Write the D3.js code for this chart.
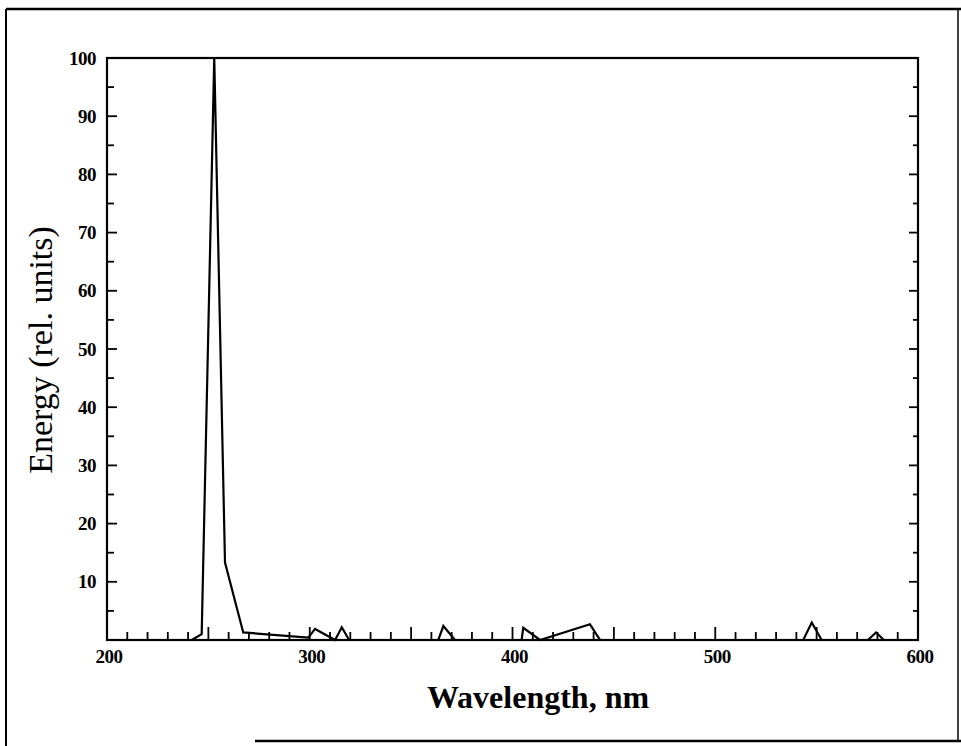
<!DOCTYPE html>
<html>
<head>
<meta charset="utf-8">
<script src="https://cdn.jsdelivr.net/npm/d3@7"></script>
<style>
  html, body { margin: 0; padding: 0; background: #fff; }
  svg { display: block; }
</style>
</head>
<body>
<svg id="chart" width="961" height="746"></svg>
<script>
// Emission spectrum: wavelength (nm) and relative energy
const wavelengths = [241.8, 246.7, 252.9, 258.2, 267.2, 299.3, 302.6, 312.5, 315.8, 319.4,
                     363.4, 365.9, 371.6, 404.5, 405.3, 413.6, 438.2, 443.2,
                     543.4, 547.6, 552.5, 575.3, 579.3, 583.2, 600];
const energies    = [0, 1.0, 100, 13.3, 1.3, 0.4, 1.9, 0, 2.2, 0,
                     0, 2.4, 0, 0, 2.1, 0, 2.7, 0,
                     0, 3.0, 0, 0, 1.3, 0, 0];

const xTickLabels = [200, 300, 400, 500, 600];
const yTickLabels = [10, 20, 30, 40, 50, 60, 70, 80, 90, 100];

(function draw() {
  const svg = d3.select("#chart");
  const plotLeft = 107, plotRight = 918, plotTop = 58, plotBottom = 640;

  const x = d3.scaleLinear().domain([200, 600]).range([plotLeft, plotRight]);
  const y = d3.scaleLinear().domain([0, 100]).range([plotBottom, plotTop]);

  const serif = "'Liberation Serif', 'Times New Roman', serif";

  // Outer frame
  const frame = svg.append("g").attr("stroke", "#000").attr("fill", "none");
  frame.append("line").attr("x1", 6).attr("y1", 9).attr("x2", 961).attr("y2", 9).attr("stroke-width", 2.5);
  frame.append("line").attr("x1", 6).attr("y1", 9).attr("x2", 6).attr("y2", 746).attr("stroke-width", 2);
  frame.append("line").attr("x1", 255).attr("y1", 741).attr("x2", 961).attr("y2", 741).attr("stroke-width", 2.5);
  frame.append("line").attr("x1", 958).attr("y1", 9).attr("x2", 958).attr("y2", 741).attr("stroke-width", 1.5);

  // Tick marks: every 10 nm along x, every 5 units on both y sides
  const xMinor = d3.range(210, 600, 10);
  const yMinor = d3.range(5, 100, 5);

  const ticks = svg.append("g").attr("stroke", "#000").attr("stroke-width", 1.8);
  ticks.selectAll(".xt").data(xMinor).join("line")
    .attr("x1", d => x(d)).attr("x2", d => x(d))
    .attr("y1", plotBottom).attr("y2", d => plotBottom - (d % 50 === 0 ? 13 : 8));
  ticks.selectAll(".yl").data(yMinor).join("line")
    .attr("x1", plotLeft).attr("x2", d => plotLeft + (d % 10 === 0 ? 10 : 7))
    .attr("y1", d => y(d)).attr("y2", d => y(d));
  ticks.selectAll(".yr").data(yMinor).join("line")
    .attr("x1", plotRight).attr("x2", d => plotRight - (d % 10 === 0 ? 9 : 5))
    .attr("y1", d => y(d)).attr("y2", d => y(d));

  // Plot box
  svg.append("rect")
    .attr("x", plotLeft).attr("y", plotTop)
    .attr("width", plotRight - plotLeft).attr("height", plotBottom - plotTop)
    .attr("fill", "none").attr("stroke", "#000").attr("stroke-width", 2.2);

  // Spectrum line
  const line = d3.line().x((d, i) => x(wavelengths[i])).y(d => y(d));
  svg.append("path")
    .datum(energies)
    .attr("d", line)
    .attr("fill", "none")
    .attr("stroke", "#000")
    .attr("stroke-width", 2.2)
    .attr("stroke-linejoin", "miter");

  // Tick labels
  svg.append("g").selectAll("text").data(yTickLabels).join("text")
    .attr("x", plotLeft - 11).attr("y", d => y(d))
    .attr("text-anchor", "end").attr("dominant-baseline", "central")
    .attr("font-family", serif).attr("font-weight", "bold").attr("font-size", 19)
    .attr("letter-spacing", -0.5)
    .text(d => d);

  svg.append("g").selectAll("text").data(xTickLabels).join("text")
    .attr("x", d => x(d) + 2).attr("y", plotBottom + 16)
    .attr("text-anchor", "middle").attr("dominant-baseline", "central")
    .attr("font-family", serif).attr("font-weight", "bold").attr("font-size", 19)
    .attr("letter-spacing", -0.5)
    .text(d => d);

  // Axis titles
  svg.append("text")
    .attr("x", 538).attr("y", 697)
    .attr("text-anchor", "middle").attr("dominant-baseline", "central")
    .attr("font-family", serif).attr("font-weight", "bold").attr("font-size", 32)
    .text("Wavelength, nm");

  svg.append("text")
    .attr("transform", "translate(40,350) rotate(-90)")
    .attr("text-anchor", "middle").attr("dominant-baseline", "central")
    .attr("font-family", serif).attr("font-size", 34)
    .text("Energy (rel. units)");
})();
</script>
</body>
</html>
